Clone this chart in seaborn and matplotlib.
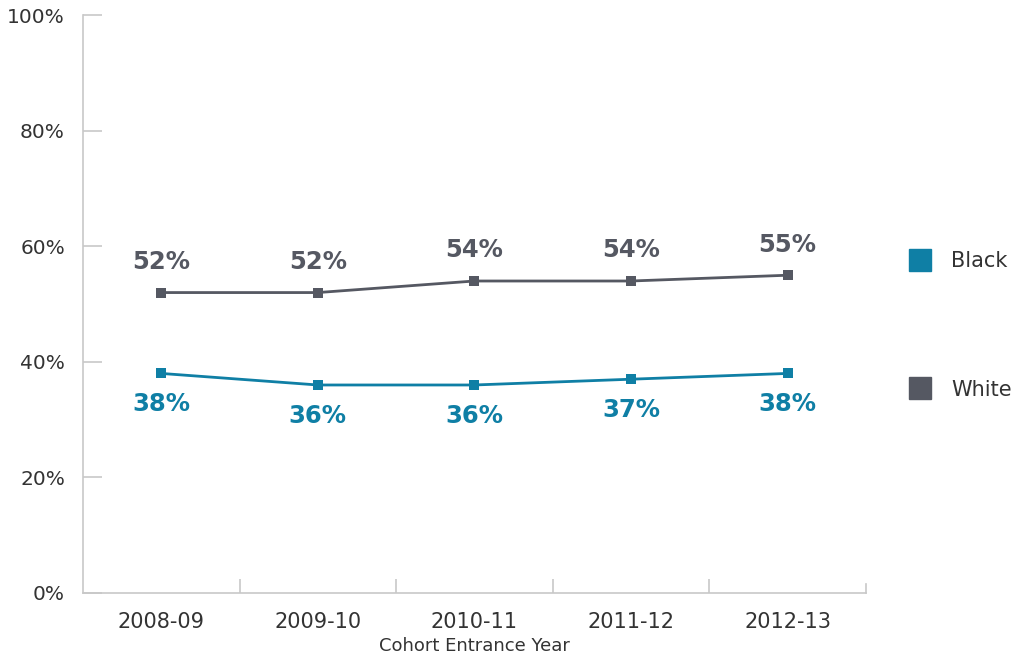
import pandas as pd
import seaborn as sns
import matplotlib.pyplot as plt
from matplotlib.lines import Line2D

years = ["2008-09", "2009-10", "2010-11", "2011-12", "2012-13"]
black = [38, 36, 36, 37, 38]
white = [52, 52, 54, 54, 55]
groups = ["Black", "White"]
colors = {"Black": "#0f7fa5", "White": "#555862"}

df = pd.DataFrame({
    "year": years * 2,
    "x": list(range(len(years))) * 2,
    "value": black + white,
    "group": ["Black"] * len(years) + ["White"] * len(years),
})

sns.set_style("white")
plt.rcParams["font.family"] = ["DejaVu Sans"]

fig = plt.figure(figsize=(10.18, 6.64), dpi=100)
ax = fig.add_axes([0.0815, 0.107, 0.769, 0.870])

sns.lineplot(data=df, x="x", y="value", hue="group", palette=colors,
             marker="s", markersize=7, markeredgewidth=0, linewidth=2,
             legend=False, ax=ax)

for g, vals in (("Black", black), ("White", white)):
    off = -22 if g == "Black" else 22
    for i, v in enumerate(vals):
        ax.annotate(f"{v}%", (i, v), xytext=(0, off), textcoords="offset points",
                    ha="center", va="center", fontsize=17.5, fontweight="bold",
                    color=colors[g])

ax.set_xlim(-0.5, 4.5)
ax.set_ylim(0, 100)
ax.set_yticks(range(0, 101, 20))
ax.set_yticklabels([f"{t}%" for t in range(0, 101, 20)], fontsize=14.5, color="#333333")
ax.set_xticks(range(len(years)))
ax.set_xticklabels(years, fontsize=15, color="#333333")
ax.set_xticks([i + 0.5 for i in range(len(years) - 1)], minor=True)
ax.tick_params(axis="x", which="major", length=0, pad=14)
ax.tick_params(axis="x", which="minor", bottom=True, direction="in", length=10,
               color="#c8c8c8", width=1.2)
ax.tick_params(axis="y", left=True, direction="in", length=14, color="#c8c8c8",
               width=1.2, pad=13)
ax.set_xlabel("Cohort Entrance Year", fontsize=13, color="#333333", labelpad=3)
ax.set_ylabel("")

ax.spines["top"].set_visible(False)
for s in ("left", "bottom", "right"):
    ax.spines[s].set_color("#c8c8c8")
    ax.spines[s].set_linewidth(1.2)
ax.spines["right"].set_bounds(0, 1.5)

handles = [Line2D([], [], marker="s", linestyle="", markersize=16, color=colors[g]) for g in groups]
fig.legend(handles, groups, loc="center left", bbox_to_anchor=(0.873, 0.51),
           frameon=False, fontsize=15, labelspacing=5.2, handletextpad=0.9,
           handlelength=1.2, labelcolor="#333333")

fig.savefig("out.png", dpi=100)
